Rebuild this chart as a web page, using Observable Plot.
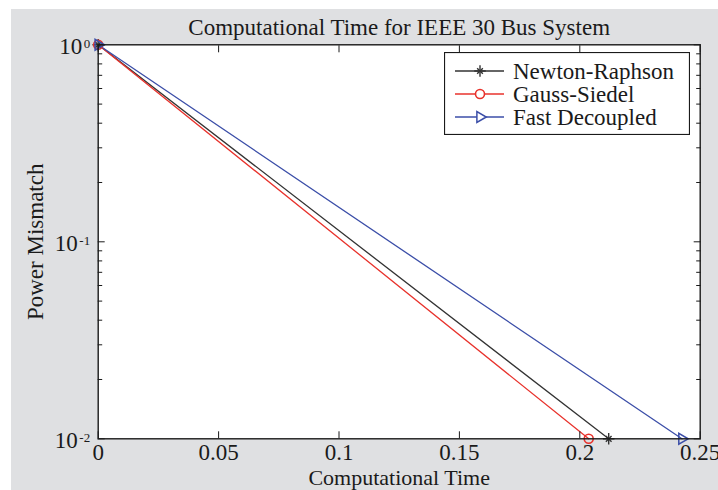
<!DOCTYPE html>
<html>
<head>
<meta charset="utf-8">
<script src="https://cdn.jsdelivr.net/npm/d3@7"></script>
<script src="https://cdn.jsdelivr.net/npm/@observablehq/plot@0.6"></script>
<style>
html, body { margin: 0; padding: 0; background: #fff; }
#wrap { position: relative; width: 718px; height: 490px; overflow: hidden; }
#bg { position: absolute; left: 11px; top: 9px; right: 0; bottom: 0; background: #dfe0e2; }
#chart { position: absolute; left: 0; top: 0; }
#legend { position: absolute; left: 444px; top: 52px; }
</style>
</head>
<body>
<div id="wrap"><div id="bg"></div><div id="chart"></div><svg id="legend"></svg></div>
<script>
// ---- data ----
const seriesNames = ["Newton-Raphson", "Gauss-Siedel", "Fast Decoupled"];
const seriesColors = ["#333333", "#e8322c", "#3b4ea8"];
const nrTime = [0, 0.212];
const nrMismatch = [1, 0.01];
const gsTime = [0, 0.2037];
const gsMismatch = [1, 0.01];
const fdTime = [0, 0.2424];
const fdMismatch = [1, 0.01];
const xTicks = [0, 0.05, 0.1, 0.15, 0.2, 0.25];
const xTickLabels = ["0", "0.05", "0.1", "0.15", "0.2", "0.25"];
const yTicks = [1, 0.1, 0.01];
const yTickExponents = ["0", "-1", "-2"];
const yMinorTicks = [0.02, 0.03, 0.04, 0.05, 0.06, 0.07, 0.08, 0.09, 0.2, 0.3, 0.4, 0.5, 0.6, 0.7, 0.8, 0.9];
const titleText = "Computational Time for IEEE 30 Bus System";
const xLabel = "Computational Time";
const yLabel = "Power Mismatch";

const mk = (name, t, m) => t.map((v, i) => ({series: name, time: v, mismatch: m[i]}));
const nrRows = mk(seriesNames[0], nrTime, nrMismatch);
const gsRows = mk(seriesNames[1], gsTime, gsMismatch);
const fdRows = mk(seriesNames[2], fdTime, fdMismatch);
const rows = [...nrRows, ...gsRows, ...fdRows];

const FONT = "Liberation Serif, Times New Roman, serif";
const FS = 23;
const ink = "#1a1a1a";

const plot = Plot.plot({
  width: 718,
  height: 490,
  marginLeft: 97.7,
  marginRight: 18.3,
  marginTop: 44.3,
  marginBottom: 51.7,
  style: {background: "transparent", fontFamily: FONT, fontSize: FS + "px", color: ink},
  x: {type: "linear", domain: [0, 0.25]},
  y: {type: "log", domain: [0.01, 1]},
  color: {domain: seriesNames, range: seriesColors},
  marks: [
    Plot.frame({fill: "white", stroke: null}),
    Plot.line(rows, {x: "time", y: "mismatch", z: "series", stroke: "series", strokeWidth: 1.3}),
    Plot.dot(nrRows, {x: "time", y: "mismatch", symbol: "plus", r: 3.8, stroke: "series", strokeWidth: 1.4}),
    Plot.dot(nrRows, {x: "time", y: "mismatch", symbol: "times", r: 2.7, stroke: "series", strokeWidth: 1.4}),
    Plot.dot(gsRows, {x: "time", y: "mismatch", symbol: "circle", r: 4.5, stroke: "series", fill: "none", strokeWidth: 1.6}),
    Plot.dot(fdRows, {x: "time", y: "mismatch", symbol: "triangle", r: 4, rotate: 90, stroke: "series", fill: "none", strokeWidth: 1.5}),
    // tick labels
    Plot.axisX(xTicks, {anchor: "bottom", tickSize: 0, tickPadding: 5, label: null,
      tickFormat: d => xTickLabels[xTicks.indexOf(d)], fill: ink}),
    Plot.axisY(yTicks, {anchor: "left", tickSize: 0, tickPadding: 8, label: null, dy: 2,
      tickFormat: d => "10^" + yTickExponents[yTicks.indexOf(d)], fill: ink}),
    // inward ticks
    Plot.axisX(xTicks, {anchor: "bottom", tickSize: -7, fill: null, label: null, stroke: ink}),
    Plot.axisX(xTicks, {anchor: "top", tickSize: -7, fill: null, label: null, stroke: ink}),
    Plot.axisY(yTicks, {anchor: "left", tickSize: -7, fill: null, label: null, stroke: ink}),
    Plot.axisY(yMinorTicks, {anchor: "left", tickSize: -4.5, fill: null, label: null, stroke: ink}),
    Plot.axisY(yTicks, {anchor: "right", tickSize: -7, fill: null, label: null, stroke: ink}),
    Plot.axisY(yMinorTicks, {anchor: "right", tickSize: -4.5, fill: null, label: null, stroke: ink}),
    Plot.frame({stroke: ink, strokeWidth: 1.4}),
    // title and axis labels
    Plot.text([titleText], {frameAnchor: "top", dy: -10, lineAnchor: "bottom", fill: ink, fontSize: FS}),
    Plot.text([xLabel], {frameAnchor: "bottom", dy: 46.5, lineAnchor: "bottom", fill: ink, fontSize: 22}),
    Plot.text([yLabel], {frameAnchor: "left", dx: -55, rotate: -90, textAnchor: "middle", lineAnchor: "bottom", fill: ink, fontSize: FS})
  ]
});
document.getElementById("chart").append(plot);

// superscript exponents on the y tick labels
const NS = "http://www.w3.org/2000/svg";
plot.querySelectorAll('g[aria-label="y-axis tick label"] text').forEach(t => {
  const parts = t.textContent.split("^");
  t.textContent = "";
  const a = document.createElementNS(NS, "tspan");
  a.textContent = parts[0];
  const b = document.createElementNS(NS, "tspan");
  b.setAttribute("dy", "-0.45em");
  b.setAttribute("dx", "1.5");
  b.setAttribute("font-size", "13");
  b.textContent = parts[1];
  t.append(a, b);
});

// legend
const lg = d3.select("#legend").attr("width", 246).attr("height", 83)
  .style("font-family", FONT).style("font-size", FS + "px");
lg.append("rect").attr("x", 0.5).attr("y", 0.5).attr("width", 245).attr("height", 82)
  .attr("fill", "white").attr("stroke", ink).attr("stroke-width", 1.2);
seriesNames.forEach((name, i) => {
  const y = 19 + i * 23;
  const c = seriesColors[i];
  const g = lg.append("g");
  g.append("line").attr("x1", 11).attr("x2", 60).attr("y1", y).attr("y2", y)
    .attr("stroke", c).attr("stroke-width", 1.3);
  if (i === 0) {
    g.append("path").attr("d", d3.symbol(d3.symbolPlus, Math.PI * 3.8 * 3.8)()).attr("transform", `translate(36,${y})`)
      .attr("stroke", c).attr("fill", "none").attr("stroke-width", 1.4);
    g.append("path").attr("d", d3.symbol(d3.symbolTimes, Math.PI * 2.7 * 2.7)()).attr("transform", `translate(36,${y})`)
      .attr("stroke", c).attr("fill", "none").attr("stroke-width", 1.4);
  } else if (i === 1) {
    g.append("circle").attr("cx", 36).attr("cy", y).attr("r", 4.5)
      .attr("stroke", c).attr("fill", "white").attr("stroke-width", 1.6);
  } else {
    g.append("path").attr("d", d3.symbol(d3.symbolTriangle, Math.PI * 16)()).attr("transform", `translate(36,${y}) rotate(90)`)
      .attr("stroke", c).attr("fill", "white").attr("stroke-width", 1.5);
  }
  g.append("text").attr("x", 69).attr("y", y).attr("dy", "0.33em").attr("fill", ink).text(name);
});
</script>
</body>
</html>
